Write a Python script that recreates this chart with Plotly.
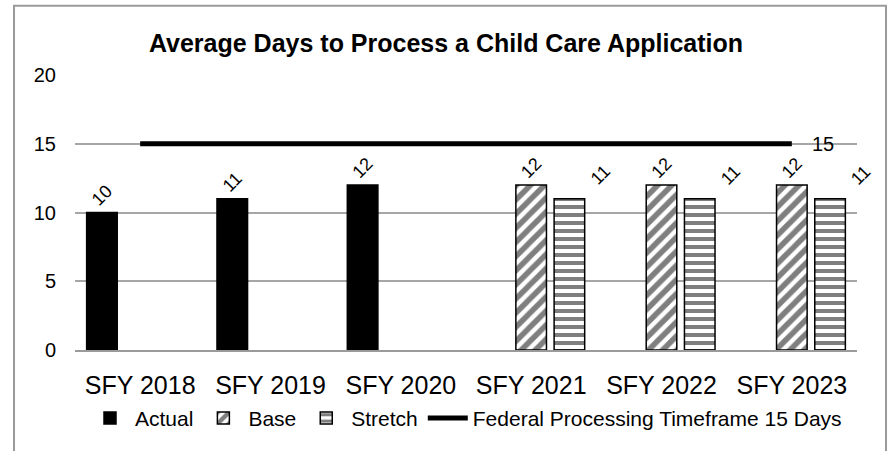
import plotly.graph_objects as go

categories = ["SFY 2018", "SFY 2019", "SFY 2020", "SFY 2021", "SFY 2022", "SFY 2023"]
actual = [10, 11, 12, None, None, None]
base = [None, None, None, 12, 12, 12]
stretch = [None, None, None, 11, 11, 11]
federal = [15, 15, 15, 15, 15, 15]
federal_label = "15"

FONT = "Liberation Sans, Arial, sans-serif"

def labels(vals):
    return ["" if v is None else str(v) for v in vals]

fig = go.Figure()
fig.add_trace(go.Bar(
    name="Actual", x=categories, y=actual,
    marker=dict(color="black", line=dict(color="black", width=1.5)),
    text=labels(actual), textposition="outside", textangle=-45,
    textfont=dict(size=18, color="black", family=FONT), cliponaxis=False,
))
fig.add_trace(go.Bar(
    name="Base", x=categories, y=base,
    marker=dict(color="white", line=dict(color="black", width=1.5),
                pattern=dict(shape="/", fgcolor="black", bgcolor="white", size=10, solidity=0.55)),
    text=labels(base), textposition="outside", textangle=-45,
    textfont=dict(size=18, color="black", family=FONT), cliponaxis=False,
))
fig.add_trace(go.Bar(
    name="Stretch", x=categories, y=stretch,
    marker=dict(color="white", line=dict(color="black", width=1.5),
                pattern=dict(shape="-", fgcolor="black", bgcolor="white", size=8, solidity=0.5)),
    cliponaxis=False,
))
fig.add_trace(go.Scatter(
    name="Federal Processing Timeframe 15 Days", x=categories, y=federal,
    mode="lines", line=dict(color="black", width=5),
))

# Stretch data labels (shifted right of the bar as in the original)
for c, v in zip(categories, stretch):
    if v is not None:
        fig.add_annotation(x=c, y=v, xref="x", yref="y", text=str(v), showarrow=False,
                           textangle=-45, xshift=69, yshift=24,
                           font=dict(size=18, color="black", family=FONT))
# Federal line end label
fig.add_annotation(x=categories[-1], y=federal[-1], xref="x", yref="y", text=federal_label,
                   showarrow=False, xanchor="left", xshift=18,
                   font=dict(size=20, color="black", family=FONT))

# Outer chart border
fig.add_shape(type="rect", xref="paper", yref="paper",
              x0=(14 - 75) / 782, x1=(886 - 75) / 782,
              y0=(353 - 470) / 278, y1=(353 - 5) / 278,
              line=dict(color="#9a9a9a", width=2), fillcolor="rgba(0,0,0,0)", layer="below")

fig.update_layout(
    width=892, height=451,
    margin=dict(l=75, r=35, t=75, b=98),
    paper_bgcolor="white", plot_bgcolor="white",
    font=dict(family=FONT, color="black"),
    title=dict(text="<b>Average Days to Process a Child Care Application</b>",
               x=446 / 892, xref="container", xanchor="center",
               y=1 - 43 / 451, yref="container", yanchor="middle",
               font=dict(size=25, color="black", family=FONT)),
    barmode="group", bargap=0.12, bargroupgap=0.2,
    showlegend=True,
    legend=dict(orientation="h", x=0.5, xanchor="center", y=(353 - 422) / 278, yanchor="middle",
                font=dict(size=21, color="black", family=FONT), itemwidth=40,
                tracegroupgap=0, bgcolor="rgba(0,0,0,0)"),
    xaxis=dict(type="category", range=[-0.5, len(categories) - 0.5], autorange=False,
               showgrid=False, showline=True, linecolor="#9a9a9a", linewidth=2,
               ticks="", tickfont=dict(size=25, color="black", family=FONT),
               ticklabelstandoff=12, fixedrange=True),
    yaxis=dict(range=[0, 20], dtick=5, showgrid=True, gridcolor="#a6a6a6", gridwidth=1.5,
               zeroline=False, showline=False, ticks="",
               tickfont=dict(size=20, color="black", family=FONT),
               ticklabelstandoff=18, fixedrange=True),
)

fig.write_html("out.html", config={"displayModeBar": False},
               post_script="document.body.style.margin='0';document.body.style.overflow='hidden';")
